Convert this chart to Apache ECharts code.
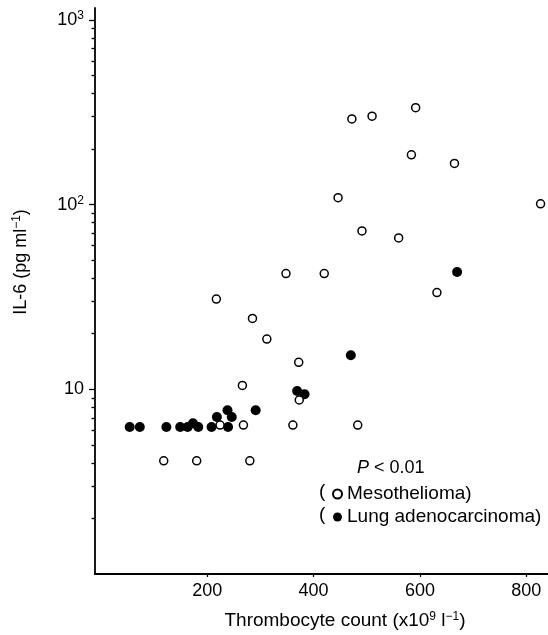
<!DOCTYPE html>
<html>
<head>
<meta charset="utf-8">
<script src="https://cdn.jsdelivr.net/npm/echarts@6/dist/echarts.min.js"></script>
<style>
html,body{margin:0;padding:0;background:#fff;}
#chart{width:548px;height:635px;}
</style>
</head>
<body>
<div id="chart"></div>
<script>
// Data
const xTickValues = [200, 400, 600, 800];
const yTickValues = [10, 100, 1000];
const yMinorTickValues = [2, 3, 4, 5, 6, 7, 8, 9, 20, 30, 40, 50, 60, 70, 80, 90, 200, 300, 400, 500, 600, 700, 800, 900];

const mesoThrombocyte = [118, 180, 280, 224, 268, 361, 483, 266, 373, 372, 312, 285, 217, 348, 420, 632, 491, 560, 446, 827, 584, 665, 472, 510, 592];
const mesoIL6         = [4.1, 4.1, 4.1, 6.4, 6.4, 6.4, 6.4, 10.5, 8.75, 14.0, 18.7, 24.2, 30.8, 42.3, 42.3, 33.4, 72, 66, 109, 101, 186, 167, 291, 301, 335];

const adenoThrombocyte = [54, 73, 123, 149, 163, 173, 183, 208, 218, 238, 246, 239, 291, 369, 383, 470, 670];
const adenoIL6         = [6.25, 6.25, 6.25, 6.25, 6.25, 6.55, 6.25, 6.25, 7.08, 7.7, 7.08, 6.25, 7.7, 9.8, 9.4, 15.3, 43.2];

const seriesNames = ['Mesothelioma', 'Lung adenocarcinoma'];

const FONT = 'Liberation Sans, Arial, Helvetica, sans-serif';
const zip = (a, b) => a.map((v, i) => [v, b[i]]);
const supStyle = {fontSize: 12, fontFamily: FONT, color: '#000', fill: '#000', verticalAlign: 'top', lineHeight: 20};

const chart = echarts.init(document.getElementById('chart'), null, {renderer: 'canvas'});
chart.setOption({
  animation: false,
  backgroundColor: '#fff',
  grid: {left: 95, right: 0, top: 8, bottom: 61, containLabel: false},
  xAxis: {
    type: 'value',
    min: -11.3,
    max: 841,
    axisLine: {show: true, onZero: false, lineStyle: {color: '#000', width: 1.8}},
    axisTick: {show: true, customValues: xTickValues, length: 3, inside: false, lineStyle: {color: '#000', width: 1.2}},
    axisLabel: {show: true, customValues: xTickValues, margin: 8, color: '#000', fontSize: 18, fontFamily: FONT},
    splitLine: {show: false}
  },
  yAxis: [
    {
      type: 'log',
      logBase: 10,
      min: 1,
      max: 1160,
      position: 'left',
      axisLine: {show: true, onZero: false, lineStyle: {color: '#000', width: 1.8}},
      axisTick: {show: true, customValues: yTickValues, length: 6, inside: false, lineStyle: {color: '#000', width: 1.3}},
      minorTick: {show: false},
      axisLabel: {
        show: true,
        customValues: yTickValues,
        margin: 11,
        color: '#000',
        fontSize: 18,
        fontFamily: FONT,
        formatter: function (v) {
          if (v === 10) return '10';
          if (v === 100) return '10{sup|2}';
          if (v === 1000) return '10{sup|3}';
          return '';
        },
        rich: {sup: supStyle}
      },
      splitLine: {show: false}
    },
    {
      type: 'log',
      logBase: 10,
      min: 1,
      max: 1160,
      position: 'left',
      axisLine: {show: false, onZero: false},
      axisTick: {show: true, customValues: yMinorTickValues, length: 3.5, inside: false, lineStyle: {color: '#000', width: 1.3}},
      axisLabel: {show: false},
      splitLine: {show: false}
    }
  ],
  legend: {
    data: seriesNames,
    orient: 'vertical',
    left: 327,
    top: 479,
    itemWidth: 9,
    itemHeight: 9,
    itemGap: 3,
    icon: 'circle',
    formatter: function (name) { return name + ')'; },
    textStyle: {color: '#000', fontSize: 19, lineHeight: 20, fontFamily: FONT}
  },
  graphic: [
    {type: 'text', x: 357, y: 468, style: {text: '{i|P} < 0.01', fill: '#000', font: '18px ' + FONT, verticalAlign: 'middle', rich: {i: {fontStyle: 'italic', fontSize: 18, fontFamily: FONT, fill: '#000'}}}},
    {type: 'text', x: 319, y: 492, style: {text: '(', fill: '#000', font: '19px ' + FONT, verticalAlign: 'middle'}},
    {type: 'text', x: 319, y: 515, style: {text: '(', fill: '#000', font: '19px ' + FONT, verticalAlign: 'middle'}},
    {type: 'text', x: 345, y: 621, style: {text: 'Thrombocyte count (x10{sup|9} l{sup|−1})', fill: '#000', font: '19px ' + FONT, align: 'center', verticalAlign: 'middle', rich: {sup: supStyle}}},
    {type: 'text', x: 21, y: 262, rotation: Math.PI / 2, style: {text: 'IL-6 (pg ml{sup|−1})', fill: '#000', font: '18px ' + FONT, align: 'center', verticalAlign: 'middle', rich: {sup: supStyle}}}
  ],
  series: [
    {
      name: seriesNames[1],
      type: 'scatter',
      yAxisIndex: 0,
      data: zip(adenoThrombocyte, adenoIL6),
      symbol: 'circle',
      symbolSize: 10,
      itemStyle: {color: '#000', borderColor: '#000', borderWidth: 0, opacity: 1},
      emphasis: {disabled: true}
    },
    {
      name: seriesNames[0],
      type: 'scatter',
      yAxisIndex: 0,
      data: zip(mesoThrombocyte, mesoIL6),
      symbol: 'circle',
      symbolSize: 8,
      itemStyle: {color: '#fff', borderColor: '#000', borderWidth: 1.5, opacity: 1},
      emphasis: {disabled: true}
    }
  ]
});
</script>
</body>
</html>
